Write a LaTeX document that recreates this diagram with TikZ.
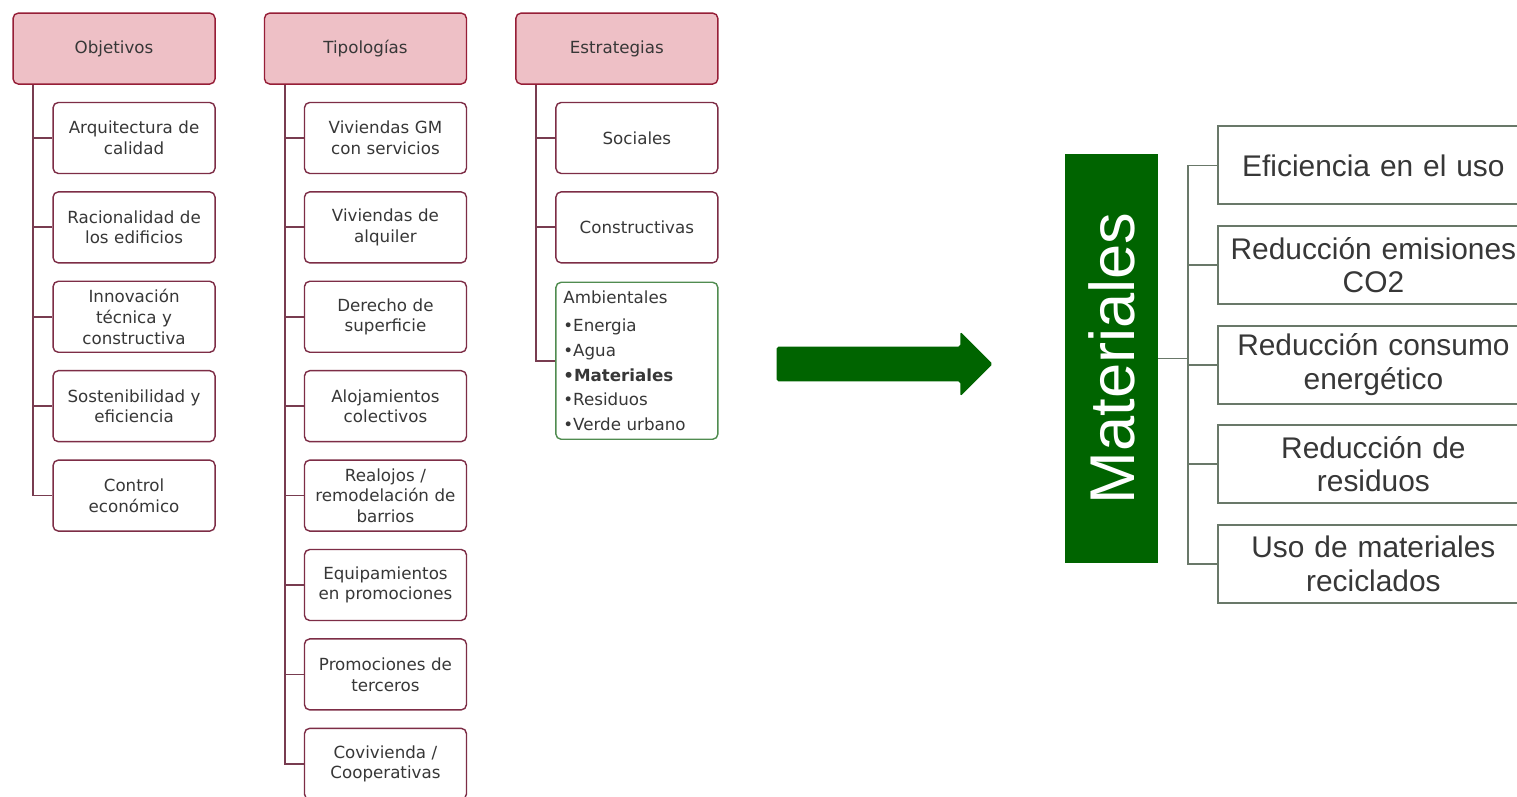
\documentclass[tikz,border=0pt]{standalone}
\usepackage{fontspec}
\usepackage{graphicx}
\usepackage{tikz}
\usetikzlibrary{matrix,positioning,shapes.arrows}

\newfontfamily\boxfont{DejaVu Sans}
\newfontfamily\bigfont{Liberation Sans}

\definecolor{hdrpink}{RGB}{238,192,198}
\definecolor{hdrline}{RGB}{150,30,55}
\definecolor{kidline}{RGB}{125,45,70}
\definecolor{treeline}{RGB}{120,60,80}
\definecolor{ambline}{RGB}{80,140,80}
\definecolor{matgreen}{RGB}{0,100,0}
\definecolor{rline}{RGB}{105,120,105}
\definecolor{txtgray}{RGB}{55,55,55}

\tikzset{
  kid/.style={rectangle, rounded corners=3pt, draw=kidline, line width=0.8pt, fill=white,
    minimum width=3.24cm, minimum height=1.42cm, text width=3.0cm, align=center,
    inner sep=0pt, anchor=east, text=txtgray, font=\boxfont\fontsize{9.5}{11.8}\selectfont},
  hdr/.style={fill=hdrpink, draw=hdrline, minimum width=4.04cm, text width=3.8cm},
  ambbox/.style={rectangle, rounded corners=3pt, draw=ambline, line width=0.8pt, fill=white,
    minimum width=3.24cm, minimum height=3.14cm, text width=2.94cm, align=left,
    inner xsep=0.14cm, inner ysep=0pt, text=txtgray, font=\boxfont\fontsize{9.5}{14}\selectfont},
  ltree/.style={draw=treeline, line width=1pt, to path={|- (\tikztotarget)}},
  bigarrow/.style={single arrow, fill=matgreen, minimum height=4.32cm, inner xsep=0pt,
    inner ysep=0.34cm, single arrow head extend=0.3cm, rounded corners=1pt},
  matbox/.style={rectangle, fill=matgreen, minimum width=1.86cm, minimum height=8.18cm,
    inner sep=0pt, text=white, font=\bigfont\fontsize{36}{40}\selectfont},
  rbox/.style={rectangle, draw=rline, line width=1.2pt, fill=white, minimum width=6.2cm,
    minimum height=1.56cm, text width=5.9cm, align=center, inner sep=0pt,
    text=txtgray, font=\bigfont\fontsize{17}{19}\selectfont},
  rtree/.style={draw=rline, line width=1pt, to path={|- (\tikztotarget)}}
}

\begin{document}
\begin{tikzpicture}
  \useasboundingbox (0,0) rectangle (30.34,-15.92);
  \clip (0,0) rectangle (30.34,-15.92);
  \fill[white] (0,0) rectangle (30.34,-15.92);

  \matrix (m) [matrix of nodes, anchor=north west, inner sep=0pt, row sep=0.34cm,
    column sep=0.96cm, nodes={kid}, row 1/.style={nodes={hdr}}] at (0.24,-0.24)
  {
    Objetivos & Tipologías & Estrategias \\
    {Arquitectura de\\calidad} & {Viviendas GM\\con servicios} & Sociales \\
    {Racionalidad de\\los edificios} & {Viviendas de\\alquiler} & Constructivas \\
    {Innovación\\técnica y\\constructiva} & {Derecho de\\superficie} & \\
    {Sostenibilidad y\\eficiencia} & {Alojamientos\\colectivos} & \\
    {Control\\económico} & {Realojos /\\remodelación de\\barrios} & \\
    & {Equipamientos\\en promociones} & \\
    & {Promociones de\\terceros} & \\
    & {Covivienda /\\Cooperativas} & \\
  };
  \node (amb) [ambbox, below=0.36cm of m-3-3]
    {Ambientales\\[2pt] •Energia\\ •Agua\\ \textbf{•Materiales}\\ •Residuos\\ •Verde urbano};

  \coordinate (obj-top) at ([xshift=0.42cm]m-1-1.south west);
  \coordinate (tip-top) at ([xshift=0.42cm]m-1-2.south west);
  \coordinate (est-top) at ([xshift=0.42cm]m-1-3.south west);
  \path[ltree]
  (obj-top) edge (m-2-1.west) edge (m-3-1.west) edge (m-4-1.west)
  edge (m-5-1.west) edge (m-6-1.west)
  (tip-top) edge (m-2-2.west) edge (m-3-2.west) edge (m-4-2.west)
  edge (m-5-2.west) edge (m-6-2.west) edge (m-7-2.west)
  edge (m-8-2.west) edge (m-9-2.west)
  (est-top) edge (m-2-3.west) edge (m-3-3.west) edge (amb.west)
  ;

  \node (arr) [bigarrow] at (17.52,-7.28) {};

  \node (mat) [matbox] at (22.23,-7.17) {\rotatebox{90}{Materiales}};
  \matrix (r) [matrix of nodes, anchor=north west, inner sep=0pt, row sep=0.39cm,
    nodes={rbox}] at (24.34,-2.5)
  {
    Eficiencia en el uso \\
    {Reducción emisiones\\CO2} \\
    {Reducción consumo\\energético} \\
    {Reducción de\\residuos} \\
    {Uso de materiales\\reciclados} \\
  };
  \coordinate (hub) at ([xshift=0.6cm]mat.east);
  \draw[rtree] (mat.east) -- (hub);
  \path[rtree]
  (hub) edge (r-1-1.west) edge (r-2-1.west) edge (r-3-1.west)
  edge (r-4-1.west) edge (r-5-1.west)
  ;
\end{tikzpicture}
\end{document}
